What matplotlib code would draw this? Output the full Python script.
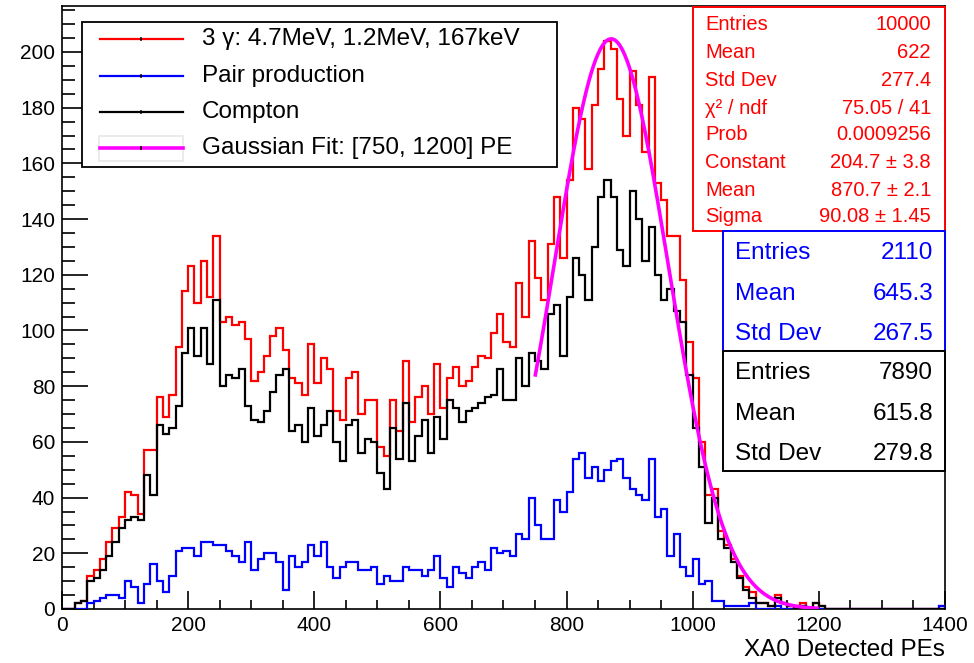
import numpy as np
import matplotlib
matplotlib.use('Agg')
import matplotlib.pyplot as plt
from matplotlib.patches import Rectangle
from matplotlib.lines import Line2D

plt.rcParams['font.family'] = ['Liberation Sans', 'DejaVu Sans']

# ---------------- data ----------------
bin_edges = np.arange(0, 1410, 10)

total = [0, 0, 2, 3, 12, 14, 18, 24, 29, 33,
         42, 41, 34, 57, 57, 76, 69, 77, 94, 114,
         123, 110, 125, 112, 134, 103, 105, 102, 103, 97,
         82, 85, 91, 98, 101, 93, 83, 81, 77, 95,
         81, 90, 86, 71, 68, 83, 85, 70, 75, 75,
         58, 55, 75, 64, 89, 67, 76, 80, 70, 88,
         72, 83, 87, 80, 82, 87, 91, 90, 99, 106,
         96, 94, 117, 105, 132, 119, 111, 131, 148, 126,
         154, 180, 176, 158, 181, 194, 204, 201, 183, 170,
         193, 181, 164, 191, 153, 147, 134, 134, 118, 96,
         83, 60, 41, 43, 28, 23, 18, 12, 8, 6,
         2, 2, 1, 5, 2, 1, 0, 2, 0, 2,
         1, 0, 0, 0, 0, 0, 0, 0, 0, 0,
         0, 0, 0, 0, 0, 0, 0, 0, 0, 1]

pair = [0, 0, 0, 0, 2, 3, 4, 5, 5, 4,
        10, 8, 2, 9, 16, 10, 6, 12, 21, 22,
        22, 19, 24, 24, 23, 23, 21, 19, 17, 24,
        14, 18, 20, 20, 17, 7, 19, 15, 17, 23,
        19, 24, 15, 11, 15, 17, 17, 14, 14, 15,
        9, 12, 10, 10, 15, 14, 14, 12, 14, 19,
        11, 8, 15, 13, 11, 15, 17, 14, 22, 20,
        21, 19, 27, 25, 40, 30, 25, 25, 39, 35,
        42, 54, 56, 47, 51, 46, 50, 53, 54, 47,
        43, 41, 39, 54, 33, 36, 19, 27, 15, 12,
        18, 9, 10, 3, 3, 1, 1, 1, 1, 2,
        0, 0, 0, 1, 0, 0, 0, 1, 0, 0,
        0, 0, 0, 0, 0, 0, 0, 0, 0, 0,
        0, 0, 0, 0, 0, 0, 0, 0, 0, 1]

compton = [0, 0, 2, 3, 10, 11, 14, 19, 24, 29,
           32, 33, 32, 48, 41, 66, 63, 65, 73, 92,
           101, 91, 101, 88, 111, 80, 84, 83, 86, 73,
           68, 67, 71, 78, 84, 86, 64, 66, 60, 72,
           62, 66, 71, 60, 53, 66, 68, 56, 61, 60,
           49, 43, 65, 54, 74, 53, 62, 68, 56, 69,
           61, 75, 72, 67, 71, 72, 74, 76, 77, 86,
           75, 75, 90, 80, 92, 89, 86, 106, 109, 91,
           112, 126, 120, 111, 130, 148, 154, 148, 129, 123,
           150, 140, 125, 137, 120, 111, 115, 107, 103, 84,
           65, 51, 31, 40, 25, 22, 17, 11, 7, 4,
           2, 2, 1, 4, 2, 1, 0, 1, 0, 2,
           1, 0, 0, 0, 0, 0, 0, 0, 0, 0,
           0, 0, 0, 0, 0, 0, 0, 0, 0, 0]

fit_constant = 204.7
fit_mean = 870.7
fit_sigma = 90.08
fit_range = (750, 1200)

legend_labels = ["3 \u03b3: 4.7MeV, 1.2MeV, 167keV", "Pair production",
                 "Compton", "Gaussian Fit: [750, 1200] PE"]

stats_total = [("Entries", "10000"), ("Mean", "622"), ("Std Dev", "277.4"),
               ("\u03c7\u00b2 / ndf", "75.05 / 41"), ("Prob", "0.0009256"),
               ("Constant", "204.7 \u00b1 3.8"), ("Mean", "870.7 \u00b1 2.1"),
               ("Sigma", "90.08 \u00b1 1.45")]
stats_pair = [("Entries", "2110"), ("Mean", "645.3"), ("Std Dev", "267.5")]
stats_compton = [("Entries", "7890"), ("Mean", "615.8"), ("Std Dev", "279.8")]

RED = '#ff0000'
BLUE = '#0000ff'
MAG = '#ff00ff'

# ---------------- figure ----------------
W, H = 974, 663
fig = plt.figure(figsize=(W / 100, H / 100), dpi=100)


def fx(px):
    return px / W


def fy(py):
    return 1 - py / H


ax = fig.add_axes([fx(62), fy(609), fx(945) - fx(62), fy(6) - fy(609)])

ax.stairs(total, bin_edges, color=RED, lw=1.6, baseline=0, zorder=3)
ax.stairs(pair, bin_edges, color=BLUE, lw=1.6, baseline=0, zorder=4)
ax.stairs(compton, bin_edges, color='black', lw=1.6, baseline=0, zorder=5)

xf = np.linspace(fit_range[0], fit_range[1], 400)
yf = fit_constant * np.exp(-0.5 * ((xf - fit_mean) / fit_sigma) ** 2)
ax.plot(xf, yf, color=MAG, lw=2.6, zorder=6, solid_capstyle='butt')

ax.set_xlim(0, 1400)
ax.set_ylim(0, 216.5)
ax.set_xticks(np.arange(0, 1401, 200))
ax.set_xticks(np.arange(0, 1401, 50), minor=True)
ax.set_yticks(np.arange(0, 201, 20))
ax.set_yticks(np.arange(0, 216, 5), minor=True)
ax.tick_params(axis='x', which='major', direction='in', length=13, width=1.2,
               labelsize=15, pad=5)
ax.tick_params(axis='x', which='minor', direction='in', length=6.5, width=1.2)
ax.tick_params(axis='y', which='major', direction='in', length=19, width=1.2,
               labelsize=15, pad=5)
ax.tick_params(axis='y', which='minor', direction='in', length=9.5, width=1.2)
for s in ax.spines.values():
    s.set_linewidth(1.2)

fig.text(fx(945), fy(650), "XA0 Detected PEs", ha='right', va='center', fontsize=17.5)

# ---------------- legend ----------------
fig.patches.append(Rectangle((fx(82), fy(167)), fx(557) - fx(82), fy(22) - fy(167),
                             transform=fig.transFigure, fill=True, facecolor='white',
                             edgecolor='black', lw=1.3, zorder=10))
fig.patches.append(Rectangle((fx(99), fy(161)), fx(183) - fx(99), fy(136) - fy(161),
                             transform=fig.transFigure, fill=False,
                             edgecolor='#e8e8e8', lw=1.2, zorder=11))
leg_y = [39, 76, 112, 148]
leg_c = [RED, BLUE, 'black', MAG]
leg_w = [1.6, 1.6, 1.6, 2.6]
for yy, c, w, lab in zip(leg_y, leg_c, leg_w, legend_labels):
    fig.add_artist(Line2D([fx(100), fx(183)], [fy(yy), fy(yy)], color=c, lw=w,
                          transform=fig.transFigure, zorder=12))
    fig.add_artist(Line2D([fx(141), fx(141)], [fy(yy) - 0.0015, fy(yy) + 0.0015],
                          color='black', lw=1.2, transform=fig.transFigure, zorder=13))
    fig.text(fx(202), fy(yy), lab, ha='left', va='center', fontsize=17.5, zorder=13)


# ---------------- stats boxes ----------------
def stats_box(x0, x1, y0, y1, rows, row_y, color, fs, lx, rx):
    fig.patches.append(Rectangle((fx(x0), fy(y1)), fx(x1) - fx(x0), fy(y0) - fy(y1),
                                 transform=fig.transFigure, facecolor='white',
                                 edgecolor=color, lw=1.4, zorder=10))
    for (k, v), yy in zip(rows, row_y):
        fig.text(fx(lx), fy(yy), k, ha='left', va='center', color=color,
                 fontsize=fs, zorder=11)
        fig.text(fx(rx), fy(yy), v, ha='right', va='center', color=color,
                 fontsize=fs, zorder=11)


stats_box(693, 945, 7, 231, stats_total, [25, 52, 80, 108, 135, 163, 191, 217],
          RED, 14.5, 705, 931)
stats_box(723, 945, 231, 351, stats_pair, [253, 294, 334], BLUE, 17.5, 735, 933)
stats_box(723, 945, 351, 471, stats_compton, [373, 414, 454], 'black', 17.5, 735, 933)

fig.savefig('out.png', dpi=100)
